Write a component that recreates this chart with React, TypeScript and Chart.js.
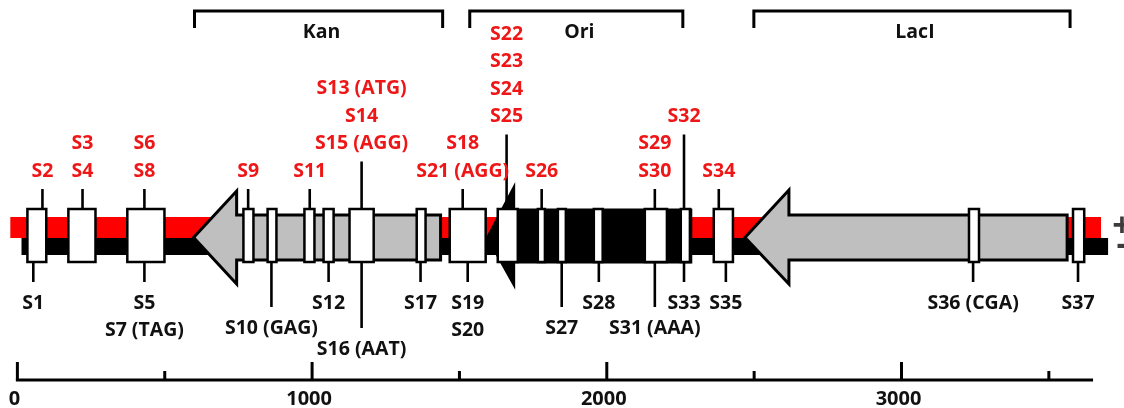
import React, { useEffect, useRef } from "react";
import { Chart, registerables } from "chart.js";

Chart.register(...registerables);

// ---------- DATA (base pairs) ----------
const AXIS_MIN = -59;
const AXIS_MAX = 3755;

const rulerMajorTicks = [0, 1000, 2000, 3000];
const rulerMinorTicks = [500, 1500, 2500, 3500];
const rulerTickLabels = ["0", "1000", "2000", "3000"];
const rulerEnd = 3650;

const plusStrand = [-24, 3677];
const minusStrand = [14, 3701];

const geneNames = ["Kan", "Ori", "LacI"];
const geneTips = [598, 1596, 2469];
const geneHeadBases = [744, 1684, 2618];
const geneEnds = [1436, 2285, 3562];
const bracketStarts = [601, 1535, 2499];
const bracketEnds = [1443, 2258, 3572];

const boxStarts = [34, 173, 373, 767, 849, 974, 1039, 1127, 1355, 1467, 1630, 1766, 1834, 1956, 2129, 2251, 2363, 3229, 3582];
const boxEnds = [98, 265, 499, 801, 879, 1008, 1073, 1209, 1385, 1589, 1698, 1790, 1861, 1986, 2204, 2282, 2428, 3263, 3620];

// sites labelled above (red), listed top-to-bottom per marker
const aboveSitePositions = [85, 221, 431, 783, 992, 1168, 1511, 1660, 1779, 2163, 2262, 2380];
const aboveSiteLabels = [
  ["S2"],
  ["S3", "S4"],
  ["S6", "S8"],
  ["S9"],
  ["S11"],
  ["S13 (ATG)", "S14", "S15 (AGG)"],
  ["S18", "S21 (AGG)"],
  ["S22", "S23", "S24", "S25"],
  ["S26"],
  ["S29", "S30"],
  ["S32"],
  ["S34"],
];
const aboveSiteTiers = [0, 0, 0, 0, 0, 1, 0, 2, 0, 0, 2, 0];

// sites labelled below (black), listed top-to-bottom per marker
const belowSitePositions = [54, 431, 862, 1056, 1168, 1368, 1528, 1847, 1973, 2163, 2262, 2404, 3243, 3599];
const belowSiteLabels = [
  ["S1"],
  ["S5", "S7 (TAG)"],
  ["S10 (GAG)"],
  ["S12"],
  ["S16 (AAT)"],
  ["S17"],
  ["S19", "S20"],
  ["S27"],
  ["S28"],
  ["S31 (AAA)"],
  ["S33"],
  ["S35"],
  ["S36 (CGA)"],
  ["S37"],
];
const belowSiteTiers = [0, 0, 1, 0, 2, 0, 0, 1, 0, 1, 0, 0, 0, 0];

const strandSigns = ["+", "-"];
const strandSignPosition = 3748;

// ---------- STYLE / LAYOUT ----------
const RED = "#ff0000";
const RED_TEXT = "#ee1616";
const BLACK = "#000000";
const GRAY = "#bfbfbf";
const FONT = "bold 19.5px 'Open Sans', Lato, sans-serif";
const RULER_FONT = "bold 20px 'Open Sans', Lato, sans-serif";
const geneFills = [GRAY, BLACK, GRAY];
const geneBody = [
  [215, 260],
  [210, 262],
  [215, 260],
];
const geneHead = [
  [191, 284],
  [188, 284],
  [190, 284],
];
const GENE_MID = 237.5;
const PLUS_Y = [217, 238];
const MINUS_Y = [238, 255];
const BOX_Y = [209, 262];
const ABOVE_ROWS = [171, 143.5, 116.5];
const BELOW_ROWS = [303, 328, 349];
const LINE_STEP = 27.3;
const BRACKET_Y = 11;
const BRACKET_DROP = 28;
const BRACKET_LABEL_Y = 32;
const RULER_Y = 380;
const SIGN_Y = [227, 245];

const diagramPlugin = {
  id: "plasmidMap",
  afterDatasetsDraw(chart: any) {
    const ctx: CanvasRenderingContext2D = chart.ctx;
    const xs = chart.scales.x;
    const ys = chart.scales.y;
    const X = (v: number) => xs.getPixelForValue(v);
    const Y = (v: number) => ys.getPixelForValue(v);

    ctx.save();
    ctx.fillStyle = "#ffffff";
    ctx.fillRect(0, 0, chart.width, chart.height);

    // strands
    ctx.fillStyle = RED;
    ctx.fillRect(X(plusStrand[0]), Y(PLUS_Y[0]), X(plusStrand[1]) - X(plusStrand[0]), Y(PLUS_Y[1]) - Y(PLUS_Y[0]));
    ctx.fillStyle = BLACK;
    ctx.fillRect(X(minusStrand[0]), Y(MINUS_Y[0]), X(minusStrand[1]) - X(minusStrand[0]), Y(MINUS_Y[1]) - Y(MINUS_Y[0]));

    // gene arrows
    ctx.lineJoin = "miter";
    for (let i = 0; i < geneNames.length; i++) {
      const xt = X(geneTips[i]);
      const xb = X(geneHeadBases[i]);
      const xe = X(geneEnds[i]);
      ctx.beginPath();
      ctx.moveTo(xt, Y(GENE_MID));
      ctx.lineTo(xb, Y(geneHead[i][0]));
      ctx.lineTo(xb, Y(geneBody[i][0]));
      ctx.lineTo(xe, Y(geneBody[i][0]));
      ctx.lineTo(xe, Y(geneBody[i][1]));
      ctx.lineTo(xb, Y(geneBody[i][1]));
      ctx.lineTo(xb, Y(geneHead[i][1]));
      ctx.closePath();
      ctx.fillStyle = geneFills[i];
      ctx.fill();
      ctx.lineWidth = 3;
      ctx.strokeStyle = BLACK;
      ctx.stroke();
    }

    // leader lines
    ctx.strokeStyle = BLACK;
    ctx.lineWidth = 2.6;
    ctx.lineCap = "butt";
    aboveSitePositions.forEach((p, i) => {
      const top = ABOVE_ROWS[aboveSiteTiers[i]] + 18;
      ctx.beginPath();
      ctx.moveTo(X(p), Y(top));
      ctx.lineTo(X(p), Y(BOX_Y[0] + 2));
      ctx.stroke();
    });
    belowSitePositions.forEach((p, i) => {
      const bottom = BELOW_ROWS[belowSiteTiers[i]] - 21;
      ctx.beginPath();
      ctx.moveTo(X(p), Y(BOX_Y[1] - 2));
      ctx.lineTo(X(p), Y(bottom));
      ctx.stroke();
    });

    // boxes
    ctx.lineWidth = 2.5;
    for (let i = 0; i < boxStarts.length; i++) {
      const x0 = X(boxStarts[i]);
      const x1 = X(boxEnds[i]);
      ctx.fillStyle = "#ffffff";
      ctx.fillRect(x0, Y(BOX_Y[0]), x1 - x0, Y(BOX_Y[1]) - Y(BOX_Y[0]));
      ctx.strokeRect(x0, Y(BOX_Y[0]), x1 - x0, Y(BOX_Y[1]) - Y(BOX_Y[0]));
    }

    // labels
    ctx.font = FONT;
    ctx.textAlign = "center";
    ctx.textBaseline = "middle";
    ctx.fillStyle = RED_TEXT;
    aboveSitePositions.forEach((p, i) => {
      const lines = aboveSiteLabels[i];
      const base = ABOVE_ROWS[aboveSiteTiers[i]];
      lines.forEach((t, j) => {
        ctx.fillText(t, X(p), Y(base - (lines.length - 1 - j) * LINE_STEP));
      });
    });
    ctx.fillStyle = "#111111";
    belowSitePositions.forEach((p, i) => {
      const lines = belowSiteLabels[i];
      const base = BELOW_ROWS[belowSiteTiers[i]];
      lines.forEach((t, j) => {
        ctx.fillText(t, X(p), Y(base + j * LINE_STEP));
      });
    });

    // brackets
    ctx.lineWidth = 3;
    ctx.strokeStyle = BLACK;
    ctx.lineJoin = "miter";
    for (let i = 0; i < geneNames.length; i++) {
      const x0 = X(bracketStarts[i]);
      const x1 = X(bracketEnds[i]);
      ctx.beginPath();
      ctx.moveTo(x0, Y(BRACKET_DROP));
      ctx.lineTo(x0, Y(BRACKET_Y));
      ctx.lineTo(x1, Y(BRACKET_Y));
      ctx.lineTo(x1, Y(BRACKET_DROP));
      ctx.stroke();
      ctx.fillStyle = "#111111";
      ctx.fillText(geneNames[i], (x0 + x1) / 2 + 3, Y(BRACKET_LABEL_Y));
    }

    // ruler
    ctx.lineWidth = 3;
    ctx.beginPath();
    ctx.moveTo(X(0) - 1.5, Y(RULER_Y));
    ctx.lineTo(X(rulerEnd), Y(RULER_Y));
    ctx.stroke();
    ctx.font = RULER_FONT;
    rulerMajorTicks.forEach((t, i) => {
      ctx.beginPath();
      ctx.moveTo(X(t), Y(RULER_Y - 18));
      ctx.lineTo(X(t), Y(RULER_Y));
      ctx.stroke();
      ctx.fillText(rulerTickLabels[i], X(t) - 3, Y(RULER_Y + 19));
    });
    rulerMinorTicks.forEach((t) => {
      ctx.beginPath();
      ctx.moveTo(X(t), Y(RULER_Y - 9));
      ctx.lineTo(X(t), Y(RULER_Y));
      ctx.stroke();
    });

    // strand signs
    ctx.fillStyle = "#3c3c3c";
    ctx.font = "bold 34px 'Open Sans', sans-serif";
    strandSigns.forEach((s, i) => {
      ctx.fillText(s, X(strandSignPosition), Y(SIGN_Y[i]));
    });
    ctx.restore();
  },
};

export default function App() {
  const ref = useRef<HTMLCanvasElement | null>(null);
  useEffect(() => {
    document.body.style.margin = "0";
    if (!ref.current) return;
    const chart = new Chart(ref.current, {
      type: "scatter",
      data: {
        datasets: [
          {
            data: aboveSitePositions.map((p) => ({ x: p, y: 0 })),
            pointRadius: 0,
            showLine: false,
          },
        ],
      },
      options: {
        animation: false,
        responsive: true,
        maintainAspectRatio: false,
        layout: { padding: 0 },
        plugins: { legend: { display: false }, tooltip: { enabled: false } },
        scales: {
          x: { type: "linear", min: AXIS_MIN, max: AXIS_MAX, display: false },
          y: { type: "linear", min: 0, max: 408, reverse: true, display: false },
        },
      },
      plugins: [diagramPlugin],
    });
    return () => chart.destroy();
  }, []);
  return (
    <div style={{ position: "relative", width: "1124px", height: "408px" }}>
      <canvas ref={ref} />
    </div>
  );
}
